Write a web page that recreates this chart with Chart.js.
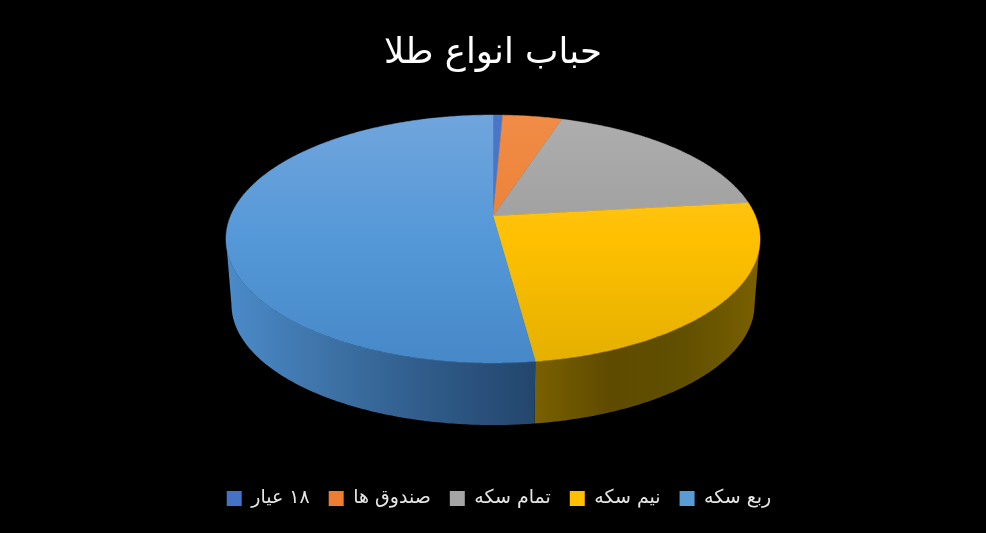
<!DOCTYPE html>
<html lang="fa">
<head>
<meta charset="utf-8">
<title>حباب انواع طلا</title>
<script src="https://cdn.jsdelivr.net/npm/chart.js@4"></script>
<style>
    html, body { margin: 0; padding: 0; background: #000; }
    canvas { display: block; }
</style>
</head>
<body>
<canvas id="goldChart" width="986" height="533"></canvas>
<script>
const chartTitle = "حباب انواع طلا";
const categories = ["۱۸ عیار", "صندوق ها", "تمام سکه", "نیم سکه", "ربع سکه"];
const bubbleValues = [0.7, 4.3, 18.2, 24.7, 52.1];
const legendColors = ["#4472c4", "#ed7d31", "#a5a5a5", "#ffc000", "#5b9bd5"];

// top face colours, top to bottom of the pie
const faceStops = [
    ["#4a76c8", "#4472c4"],
    ["#f08c46", "#ea7525"],
    ["#aeaeae", "#8f8f8f"],
    ["#ffca3c", "#ffc000", "#e4b000"],
    ["#70a5dc", "#5598d8", "#4688c8"]
];
// side wall colours, left to right
const wallStops = {
    3: ["#7a6000", "#5f4b00", "#615000", "#7a6000"],
    4: ["#4b8bca", "#3d72a6", "#2f5a88", "#23466c"]
};

// perspective of the disc: a circle seen from above, so the apex sits above the ellipse middle
const topFace = { x: 493, y: 216, a: 262.4, b: 119.7, k: 0.1855 };
const bottomFace = { x: 493, y: 282, a: 257, b: 116.5, k: 0.1855 };
// where the outline of the disc turns away from the viewer
const edgeAngle = Math.asin(topFace.k);

function project(face, angle) {
    const w = 1 - face.k * Math.sin(angle);
    return [face.x + face.a * Math.cos(angle) / w, face.y + face.b * Math.sin(angle) / w];
}

function traceArc(ctx, face, from, to) {
    const steps = Math.max(2, Math.ceil(Math.abs(to - from) / 0.01));
    for (let i = 0; i <= steps; i++) {
        const p = project(face, from + (to - from) * i / steps);
        ctx.lineTo(p[0], p[1]);
    }
}

function makeGradient(ctx, x0, y0, x1, y1, stops) {
    const g = ctx.createLinearGradient(x0, y0, x1, y1);
    stops.forEach((c, i) => g.addColorStop(i / (stops.length - 1), c));
    return g;
}

const pie3d = {
    id: "pie3d",
    afterLayout(chart) {
        // legend sits a little right of the middle
        chart.legend.left += 6;
        chart.legend.right += 6;
    },
    beforeDatasetsDraw(chart) {
        const ctx = chart.ctx;
        const arcs = chart.getDatasetMeta(0).data;

        // walls first, only the part that faces the viewer
        arcs.forEach((arc, i) => {
            if (!wallStops[i]) return;
            const from = Math.max(arc.startAngle, edgeAngle);
            const to = Math.min(arc.endAngle, Math.PI - edgeAngle);
            if (to <= from) return;
            const x0 = project(topFace, to)[0];
            const x1 = project(topFace, from)[0];
            ctx.beginPath();
            traceArc(ctx, topFace, from, to);
            traceArc(ctx, bottomFace, to, from);
            ctx.closePath();
            ctx.fillStyle = makeGradient(ctx, x0, 0, x1, 0, wallStops[i]);
            ctx.fill();
        });

        // then the top faces from the library's own arc angles
        arcs.forEach((arc, i) => {
            ctx.beginPath();
            ctx.moveTo(topFace.x, topFace.y);
            traceArc(ctx, topFace, arc.startAngle, arc.endAngle);
            ctx.closePath();
            const g = makeGradient(ctx, 0, 115, 0, 363, faceStops[i]);
            ctx.fillStyle = g;
            ctx.fill();
            ctx.strokeStyle = g;
            ctx.lineWidth = 0.5;
            ctx.stroke();
        });
        return false;
    }
};

new Chart(document.getElementById("goldChart"), {
    type: "pie",
    data: {
        labels: categories,
        datasets: [{ data: bubbleValues, backgroundColor: legendColors, borderWidth: 0 }]
    },
    plugins: [pie3d],
    options: {
        responsive: false,
        animation: false,
        layout: { padding: { top: 32, bottom: 15 } },
        plugins: {
            tooltip: { enabled: false },
            title: {
                display: true,
                text: chartTitle,
                color: "#ffffff",
                font: { family: "'DejaVu Sans', serif", size: 35.5, weight: "normal" },
                padding: { top: 0, bottom: 10 }
            },
            legend: {
                position: "bottom",
                textDirection: "rtl",
                labels: {
                    color: "#e6e6e6",
                    boxWidth: 15,
                    boxHeight: 15,
                    padding: 19,
                    font: { family: "'DejaVu Sans', serif", size: 19 }
                }
            }
        }
    }
});
</script>
</body>
</html>
